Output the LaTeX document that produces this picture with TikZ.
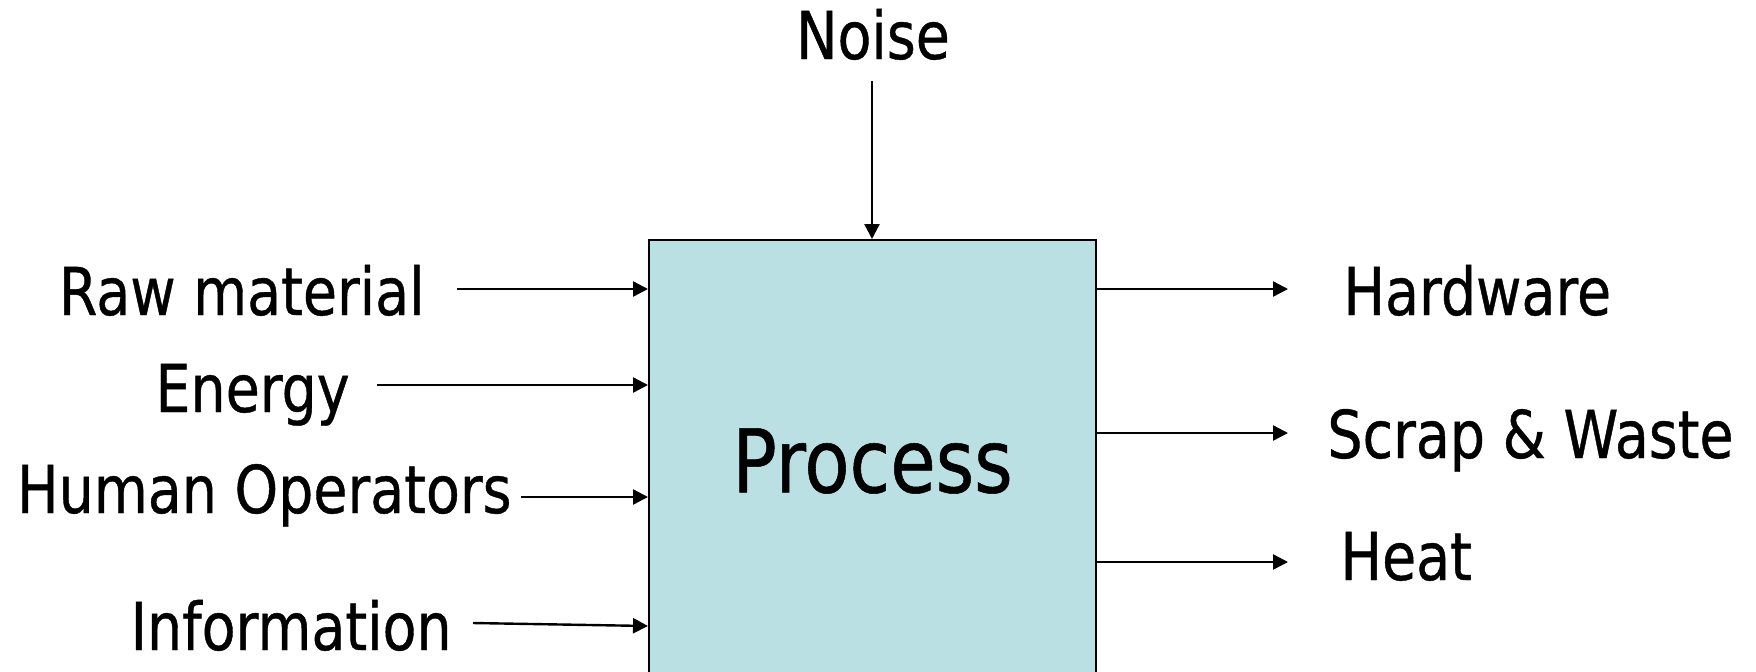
\documentclass[tikz,border=0pt]{standalone}
\usepackage{fontspec}
\setmainfont{DejaVu Sans}[FakeStretch=0.84, FakeBold=0.6]
\usepackage{xcolor}
\usepackage{tikz}
\usetikzlibrary{arrows.meta,positioning}

\definecolor{procfill}{RGB}{187,224,227}

\begin{document}
\begin{tikzpicture}[x=0.5pt, y=-0.5pt,
        lbl/.style={inner sep=0pt, font=\fontsize{33}{40}\selectfont},
        flow/.style={line width=1.2pt, -{Triangle[length=7.5pt, width=7.5pt]}}]
    \clip (0,0) rectangle (1756,671);

    % The process block (runs off the bottom edge)
    \node[draw, line width=1pt, fill=procfill, inner sep=0pt,
          minimum width=223.5pt, minimum height=221pt,
          font=\fontsize{44}{52}\selectfont] (proc) at (872.5,461) {Process};

    % Noise from above
    \node[lbl, anchor=base] (noise) at (873,59) {Noise};
    \coordinate (noise-s) at (872,81);
    \draw[flow] (noise-s) -- (noise-s |- proc.north);

    % Inputs on the left
    \foreach \k/\txt/\xe/\yb/\xs/\ya/\yt in {
            1/Raw material/425/315/457/289/289,
            2/Energy/350/412/377/385/385,
            3/Human Operators/512/513/521/497/497,
            4/Information/452/650/473/623/626} {
        \node[lbl, anchor=base east] (in\k) at (\xe,\yb) {\txt};
        \coordinate (in\k-s) at (\xs,\ya);
        \coordinate (in\k-t) at (0,\yt);
        \draw[flow] (in\k-s) -- (proc.west |- in\k-t);
    }

    % Outputs on the right
    \foreach \k/\txt/\xb/\yb/\ya in {
            1/Hardware/1343/315/289,
            2/Scrap \& Waste/1327/458/433,
            3/Heat/1340/580/562} {
        \node[lbl, anchor=base west] (out\k) at (\xb,\yb) {\txt};
        \coordinate (out\k-t) at (1288,\ya);
        \draw[flow] (proc.east |- out\k-t) -- (out\k-t);
    }
\end{tikzpicture}
\end{document}
